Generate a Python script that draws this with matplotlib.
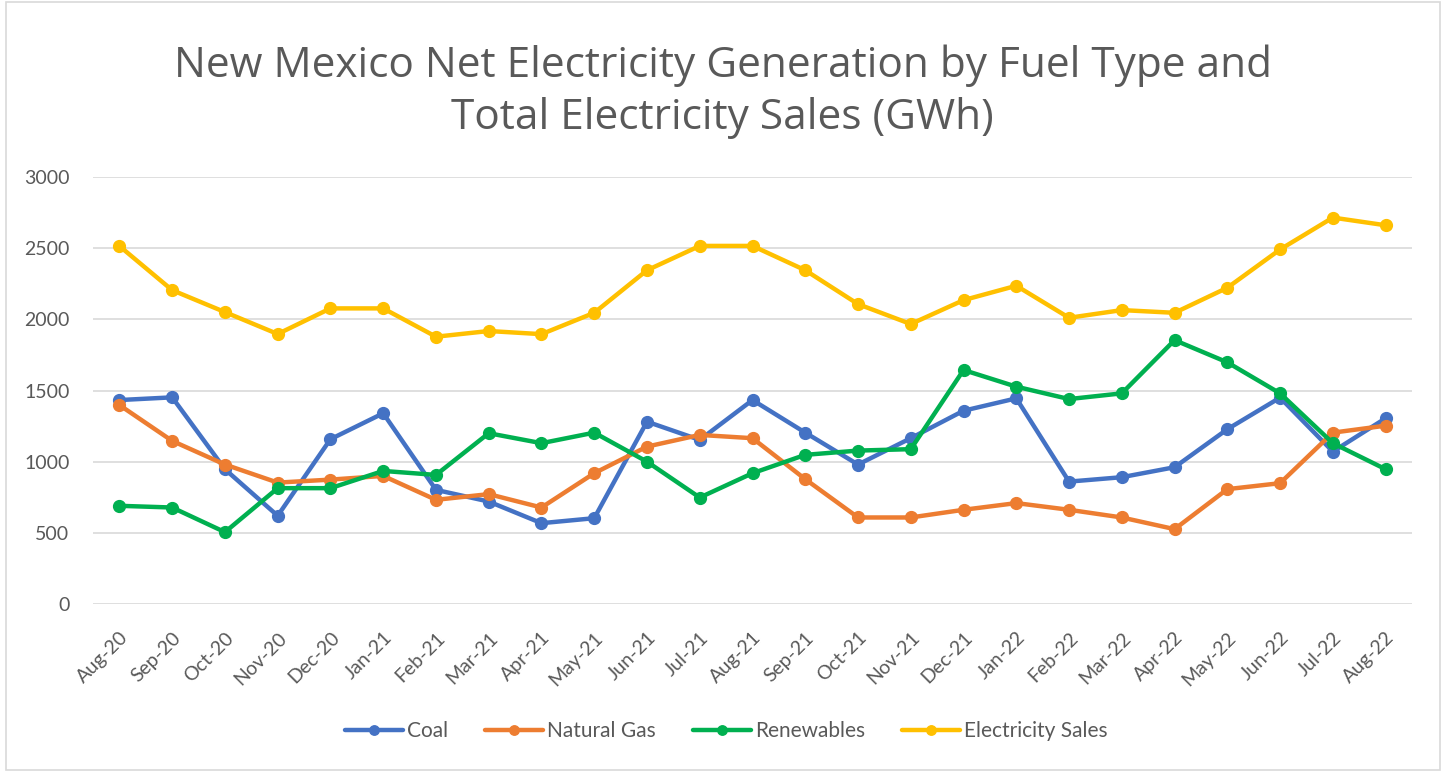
import matplotlib
matplotlib.use("Agg")
import matplotlib.pyplot as plt
from matplotlib.patches import Rectangle

months = ["Aug-20", "Sep-20", "Oct-20", "Nov-20", "Dec-20", "Jan-21", "Feb-21", "Mar-21",
          "Apr-21", "May-21", "Jun-21", "Jul-21", "Aug-21", "Sep-21", "Oct-21", "Nov-21",
          "Dec-21", "Jan-22", "Feb-22", "Mar-22", "Apr-22", "May-22", "Jun-22", "Jul-22", "Aug-22"]

coal = [1433, 1452, 947, 620, 1158, 1340, 802, 720, 568, 603, 1281, 1153, 1433,
        1204, 980, 1165, 1358, 1445, 860, 891, 961, 1228, 1450, 1071, 1305]
natural_gas = [1398, 1146, 980, 853, 874, 900, 732, 772, 678, 919, 1106, 1188, 1165,
               877, 608, 608, 662, 709, 662, 608, 526, 807, 849, 1204, 1253]
renewables = [690, 678, 505, 814, 814, 935, 907, 1200, 1130, 1204, 1000, 748, 919,
              1048, 1078, 1088, 1644, 1527, 1440, 1480, 1854, 1698, 1480, 1130, 947]
electricity_sales = [2515, 2205, 2051, 1897, 2077, 2077, 1878, 1918, 1896, 2046, 2345, 2516, 2516,
                     2345, 2107, 1967, 2135, 2236, 2011, 2065, 2046, 2222, 2491, 2715, 2661]

series = [
    ("Coal", coal, "#4472C4"),
    ("Natural Gas", natural_gas, "#ED7D31"),
    ("Renewables", renewables, "#00B050"),
    ("Electricity Sales", electricity_sales, "#FFC000"),
]

plt.rcParams['font.family'] = ['Lato', 'DejaVu Sans']

fig = plt.figure(figsize=(14.47, 7.72), dpi=100)
ax = fig.add_axes([0.0643, 0.2176, 0.9115, 0.5531])

x = list(range(len(months)))
for name, vals, col in series:
    ax.plot(x, vals, color=col, linewidth=3.2, marker='o', markersize=8.5, label=name,
            solid_capstyle='round', solid_joinstyle='round')

ax.set_xlim(-0.5, len(months) - 0.5)
ax.set_ylim(0, 3000)
ax.set_yticks(range(0, 3001, 500))
ax.grid(axis='y', color='#D9D9D9', linewidth=1.2)
ax.set_axisbelow(True)
for s in ax.spines.values():
    s.set_visible(False)
ax.tick_params(axis='both', length=0, colors='#595959', labelsize=14)
ax.tick_params(axis='y', pad=17)
ax.set_xticks(x)
ax.set_xticklabels(months, rotation=45, ha='right', rotation_mode='anchor')
ax.tick_params(axis='x', pad=18)

fig.text(0.4995, 0.881, "New Mexico Net Electricity Generation by Fuel Type and\nTotal Electricity Sales (GWh)",
         ha='center', va='center', fontsize=30.5, color='#595959', linespacing=1.3,
         family=['Open Sans', 'DejaVu Sans'])

leg = fig.legend(loc='center', bbox_to_anchor=(0.502, 0.053), ncol=4, frameon=False,
                 fontsize=15, handlelength=2.8, columnspacing=1.75, handletextpad=0.2,
                 markerscale=0.8)
for t in leg.get_texts():
    t.set_color('#595959')

fig.patches.append(Rectangle((0.004, 0.003), 0.991, 0.994, transform=fig.transFigure,
                             fill=False, edgecolor='#D9D9D9', linewidth=1.2))

fig.savefig("out.png", dpi=100, facecolor='white')
